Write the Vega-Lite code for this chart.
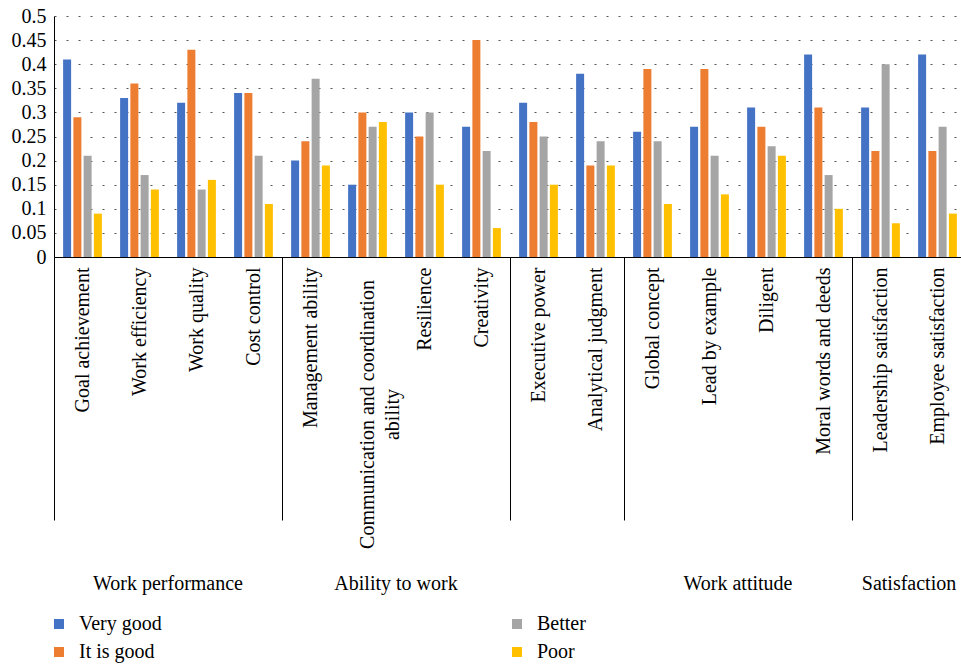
{
  "$schema": "https://vega.github.io/schema/vega-lite/v6.json",
  "autosize": "none",
  "width": 907,
  "height": 241,
  "padding": {"left": 54, "top": 16, "right": 0, "bottom": 410},
  "config": {
    "font": "Liberation Serif",
    "view": {"stroke": null},
    "axis": {"labelFont": "Liberation Serif", "labelFontSize": 20, "labelColor": "#000"},
    "legend": {"labelFont": "Liberation Serif", "labelFontSize": 20, "labelColor": "#000"}
  },
  "data": {
    "values": [
      {"category": "Goal achievement", "series": "Very good", "value": 0.41},
      {"category": "Goal achievement", "series": "It is good", "value": 0.29},
      {"category": "Goal achievement", "series": "Better", "value": 0.21},
      {"category": "Goal achievement", "series": "Poor", "value": 0.09},
      {"category": "Work efficiency", "series": "Very good", "value": 0.33},
      {"category": "Work efficiency", "series": "It is good", "value": 0.36},
      {"category": "Work efficiency", "series": "Better", "value": 0.17},
      {"category": "Work efficiency", "series": "Poor", "value": 0.14},
      {"category": "Work quality", "series": "Very good", "value": 0.32},
      {"category": "Work quality", "series": "It is good", "value": 0.43},
      {"category": "Work quality", "series": "Better", "value": 0.14},
      {"category": "Work quality", "series": "Poor", "value": 0.16},
      {"category": "Cost control", "series": "Very good", "value": 0.34},
      {"category": "Cost control", "series": "It is good", "value": 0.34},
      {"category": "Cost control", "series": "Better", "value": 0.21},
      {"category": "Cost control", "series": "Poor", "value": 0.11},
      {"category": "Management ability", "series": "Very good", "value": 0.20},
      {"category": "Management ability", "series": "It is good", "value": 0.24},
      {"category": "Management ability", "series": "Better", "value": 0.37},
      {"category": "Management ability", "series": "Poor", "value": 0.19},
      {"category": "Communication and coordination ability", "series": "Very good", "value": 0.15},
      {"category": "Communication and coordination ability", "series": "It is good", "value": 0.30},
      {"category": "Communication and coordination ability", "series": "Better", "value": 0.27},
      {"category": "Communication and coordination ability", "series": "Poor", "value": 0.28},
      {"category": "Resilience", "series": "Very good", "value": 0.30},
      {"category": "Resilience", "series": "It is good", "value": 0.25},
      {"category": "Resilience", "series": "Better", "value": 0.30},
      {"category": "Resilience", "series": "Poor", "value": 0.15},
      {"category": "Creativity", "series": "Very good", "value": 0.27},
      {"category": "Creativity", "series": "It is good", "value": 0.45},
      {"category": "Creativity", "series": "Better", "value": 0.22},
      {"category": "Creativity", "series": "Poor", "value": 0.06},
      {"category": "Executive power", "series": "Very good", "value": 0.32},
      {"category": "Executive power", "series": "It is good", "value": 0.28},
      {"category": "Executive power", "series": "Better", "value": 0.25},
      {"category": "Executive power", "series": "Poor", "value": 0.15},
      {"category": "Analytical judgment", "series": "Very good", "value": 0.38},
      {"category": "Analytical judgment", "series": "It is good", "value": 0.19},
      {"category": "Analytical judgment", "series": "Better", "value": 0.24},
      {"category": "Analytical judgment", "series": "Poor", "value": 0.19},
      {"category": "Global concept", "series": "Very good", "value": 0.26},
      {"category": "Global concept", "series": "It is good", "value": 0.39},
      {"category": "Global concept", "series": "Better", "value": 0.24},
      {"category": "Global concept", "series": "Poor", "value": 0.11},
      {"category": "Lead by example", "series": "Very good", "value": 0.27},
      {"category": "Lead by example", "series": "It is good", "value": 0.39},
      {"category": "Lead by example", "series": "Better", "value": 0.21},
      {"category": "Lead by example", "series": "Poor", "value": 0.13},
      {"category": "Diligent", "series": "Very good", "value": 0.31},
      {"category": "Diligent", "series": "It is good", "value": 0.27},
      {"category": "Diligent", "series": "Better", "value": 0.23},
      {"category": "Diligent", "series": "Poor", "value": 0.21},
      {"category": "Moral words and deeds", "series": "Very good", "value": 0.42},
      {"category": "Moral words and deeds", "series": "It is good", "value": 0.31},
      {"category": "Moral words and deeds", "series": "Better", "value": 0.17},
      {"category": "Moral words and deeds", "series": "Poor", "value": 0.10},
      {"category": "Leadership satisfaction", "series": "Very good", "value": 0.31},
      {"category": "Leadership satisfaction", "series": "It is good", "value": 0.22},
      {"category": "Leadership satisfaction", "series": "Better", "value": 0.40},
      {"category": "Leadership satisfaction", "series": "Poor", "value": 0.07},
      {"category": "Employee satisfaction", "series": "Very good", "value": 0.42},
      {"category": "Employee satisfaction", "series": "It is good", "value": 0.22},
      {"category": "Employee satisfaction", "series": "Better", "value": 0.27},
      {"category": "Employee satisfaction", "series": "Poor", "value": 0.09}
    ]
  },
  "layer": [
    {
      "mark": {"type": "bar"},
      "encoding": {
        "x": {
          "field": "category",
          "type": "nominal",
          "sort": null,
          "scale": {"range": [0, 912], "paddingInner": 0.32, "paddingOuter": 0.16},
          "axis": {
            "orient": "bottom",
            "title": null,
            "labelAngle": -90,
            "labelAlign": {"condition": {"test": "datum.value === 'Communication and coordination ability'", "value": "center"}, "value": "right"},
            "labelBaseline": "middle",
            "labelPadding": {"condition": {"test": "datum.value === 'Communication and coordination ability'", "value": 157}, "value": 10},
            "labelExpr": "datum.value === 'Communication and coordination ability' ? ['Communication and coordination', 'ability'] : datum.label",
            "labelLineHeight": 25,
            "labelLimit": 0,
            "labelOverlap": false,
            "labelBound": false,
            "labelFlush": false,
            "ticks": false,
            "grid": false,
            "domain": true,
            "domainColor": "#000",
            "domainWidth": 1
          }
        },
        "xOffset": {
          "field": "series",
          "type": "nominal",
          "sort": ["Very good", "It is good", "Better", "Poor"],
          "scale": {"paddingInner": 0.22, "paddingOuter": 0}
        },
        "y": {
          "field": "value",
          "type": "quantitative",
          "scale": {"domain": [0, 0.5], "nice": false, "zero": true},
          "axis": {
            "title": null,
            "values": [0, 0.05, 0.1, 0.15, 0.2, 0.25, 0.3, 0.35, 0.4, 0.45, 0.5],
            "format": ".2~f",
            "grid": true,
            "gridDash": [2, 10],
            "gridColor": "#555",
            "gridWidth": 1,
            "ticks": false,
            "domain": true,
            "domainColor": "#000",
            "labelPadding": 8
          }
        },
        "color": {
          "field": "series",
          "type": "nominal",
          "scale": {
            "domain": ["Very good", "It is good", "Better", "Poor"],
            "range": ["#4472C4", "#ED7D31", "#A5A5A5", "#FFC000"]
          },
          "legend": {
            "orient": "none",
            "legendX": -5,
            "legendY": 598,
            "columns": 2,
            "title": null,
            "symbolType": "square",
            "symbolSize": 100,
            "symbolStrokeWidth": 0,
            "symbolOpacity": 1,
            "labelOffset": 10,
            "columnPadding": 345,
            "rowPadding": 8
          }
        }
      }
    },
    {
      "mark": {"type": "rule", "opacity": 0},
      "encoding": {
        "x": {
          "field": "category",
          "type": "nominal",
          "sort": null,
          "axis": {
            "orient": "bottom",
            "title": null,
            "bandPosition": -0.235,
            "domain": false,
            "grid": false,
            "ticks": true,
            "tickSize": 263,
            "tickColor": "#000",
            "tickWidth": 1,
            "tickOpacity": {"condition": {"test": "indexof(['Goal achievement','Management ability','Executive power','Global concept','Leadership satisfaction'], datum.value) >= 0", "value": 1}, "value": 0},
            "labelExpr": "datum.value === 'Work quality' ? 'Work performance' : datum.value === 'Resilience' ? 'Ability to work' : datum.value === 'Diligent' ? 'Work attitude' : datum.value === 'Employee satisfaction' ? 'Satisfaction' : ''",
            "labelAngle": 0,
            "labelAlign": "center",
            "labelBaseline": "top",
            "labelPadding": 53,
            "labelOffset": -28.5,
            "labelLimit": 0,
            "labelOverlap": false,
            "labelBound": false,
            "labelFlush": false
          }
        }
      }
    }
  ],
  "resolve": {"axis": {"x": "independent"}}
}
